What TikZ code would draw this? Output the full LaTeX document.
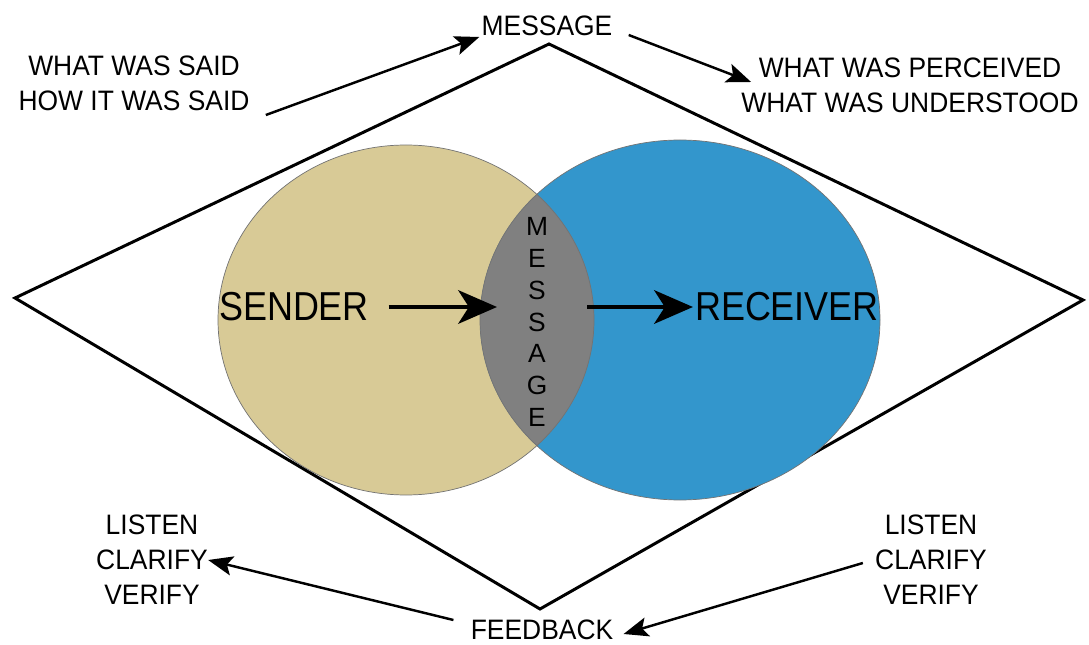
\documentclass[tikz,border=0pt]{standalone}
\usepackage{fontspec}
\setmainfont{Liberation Sans}
\newfontfamily\smallfont[FakeStretch=0.94]{Liberation Sans}
\newfontfamily\condfont[FakeStretch=0.89]{Liberation Sans}
\usetikzlibrary{arrows.meta,calc}
\definecolor{sendertan}{RGB}{216,202,150}
\definecolor{receiverblue}{RGB}{51,150,204}
\definecolor{lensgray}{RGB}{128,128,128}
\begin{document}
\begin{tikzpicture}[x=0.02cm,y=-0.02cm,
  lbl/.style={font=\smallfont\fontsize{16}{20}\selectfont, inner sep=0pt, align=center},
  big/.style={font=\condfont\fontsize{23}{26}\selectfont, inner sep=0pt},
  vert/.style={font=\fontsize{15}{18.1}\selectfont, inner sep=0pt, align=center},
  smarrow/.style={line width=1.4pt, -{Stealth[length=14pt,width=11pt,inset=3pt]}},
  bigarrow/.style={line width=2.8pt, -{Stealth[length=22pt,width=19pt,inset=6pt]}},
  outline/.style={draw=black!55, line width=0.4pt}]
\useasboundingbox (0,0) rectangle (1089,645);
% diamond
\draw[line width=1.7pt, line join=miter] (549,44) -- (1083,300) -- (540,609) -- (15,298) -- cycle;
% circles
\fill[sendertan] (406,320) ellipse [x radius=188, y radius=175];
\fill[receiverblue] (680,320) ellipse [x radius=200, y radius=180];
\begin{scope}
  \clip (406,320) ellipse [x radius=188, y radius=175];
  \fill[lensgray] (680,320) ellipse [x radius=200, y radius=180];
\end{scope}
\draw[outline] (406,320) ellipse [x radius=188, y radius=175];
\draw[outline] (680,320) ellipse [x radius=200, y radius=180];
% top texts
\node[lbl] (msg) at (547,26) {MESSAGE};
\node[lbl] (said) at (134,83) {WHAT WAS SAID\\HOW IT WAS SAID};
\node[lbl] (perc) at (910,85) {WHAT WAS PERCEIVED\\WHAT WAS UNDERSTOOD};
\draw[smarrow] ($(said.east)+(16,32)$) -- ($(msg.west)+(-2,11)$);
\draw[smarrow] ($(msg.east)+(16,9)$) -- ($(perc.west)+(10,-3)$);
% center
\node[big] (sender) at (294,307) {SENDER};
\node[big] (receiver) at (787,307) {RECEIVER};
\node[vert] (vmsg) at (537,322) {M\\E\\S\\S\\A\\G\\E};
\coordinate (lensleft) at (497,307);
\coordinate (lensright) at (587,307);
\draw[bigarrow] ([xshift=11pt]sender.east) -- (lensleft);
\draw[bigarrow] (lensright) -- ([xshift=-1pt]receiver.west);
% bottom texts
\node[lbl] (lcvleft) at (152,560) {LISTEN\\CLARIFY\\VERIFY};
\node[lbl] (lcvright) at (931,560) {LISTEN\\CLARIFY\\VERIFY};
\node[lbl] (fb) at (542,630) {FEEDBACK};
\draw[smarrow] ($(fb.west)+(-17,-10)$) -- ($(lcvleft.east)+(0,0)$);
\draw[smarrow] ($(lcvright.west)+(-12,3)$) -- ($(fb.east)+(10,4)$);
\end{tikzpicture}
\end{document}
